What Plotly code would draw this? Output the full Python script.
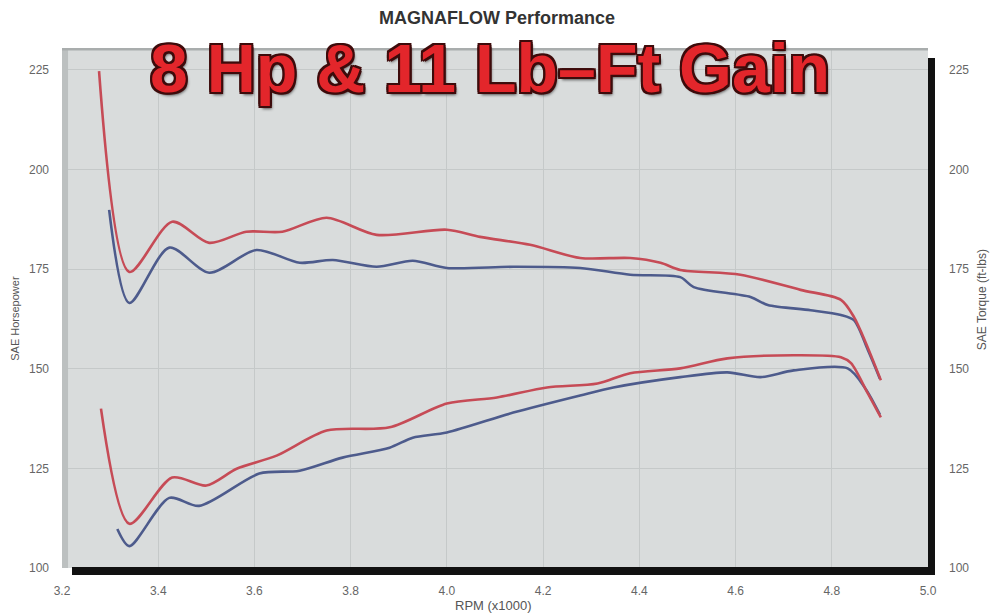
import plotly.graph_objects as go

# RPM (x1000) and values
torque_after_rpm = [3.277, 3.340, 3.429, 3.506, 3.583, 3.658, 3.750, 3.854, 4.000, 4.069,
                    4.173, 4.277, 4.381, 4.444, 4.485, 4.610, 4.735, 4.819, 4.846, 4.902]
torque_after = [224.7, 174.3, 186.9, 181.6, 184.4, 184.4, 187.9, 183.6, 184.9, 183.1,
                181.1, 177.8, 177.8, 176.6, 174.8, 173.6, 169.8, 167.3, 163.0, 147.1]

torque_before_rpm = [3.298, 3.340, 3.423, 3.506, 3.604, 3.694, 3.763, 3.854, 3.929, 4.000,
                     4.138, 4.277, 4.381, 4.485, 4.513, 4.631, 4.667, 4.756, 4.819, 4.846,
                     4.875, 4.900]
torque_before = [189.9, 166.5, 180.4, 174.1, 179.8, 176.6, 177.3, 175.6, 177.1, 175.3,
                 175.6, 175.3, 173.6, 173.0, 170.5, 168.0, 166.0, 164.7, 163.5, 162.2,
                 154.7, 147.5]

hp_after_rpm = [3.281, 3.340, 3.429, 3.500, 3.563, 3.646, 3.750, 3.881, 4.000, 4.104,
                4.208, 4.313, 4.381, 4.485, 4.583, 4.721, 4.819, 4.840, 4.875, 4.902]
hp_after = [140.0, 111.1, 122.7, 120.7, 124.9, 128.2, 134.5, 135.3, 141.3, 142.8,
            145.3, 146.3, 148.9, 150.1, 152.6, 153.4, 152.9, 151.4, 143.8, 137.8]

hp_before_rpm = [3.315, 3.340, 3.423, 3.485, 3.610, 3.694, 3.783, 3.881, 3.929, 4.000,
                 4.138, 4.277, 4.346, 4.485, 4.583, 4.652, 4.721, 4.833, 4.870, 4.900]
hp_before = [109.8, 105.5, 117.6, 115.6, 123.7, 124.4, 127.7, 130.2, 132.7, 134.0,
             139.0, 143.3, 145.3, 147.9, 149.1, 147.9, 149.6, 150.1, 145.0, 138.5]

y_ticks = [100, 125, 150, 175, 200, 225]
x_ticks = [3.2, 3.4, 3.6, 3.8, 4.0, 4.2, 4.4, 4.6, 4.8, 5.0]

RED = "#c64b56"
BLUE = "#4d5b8c"
FONT = "Liberation Sans"

fig = go.Figure()
line_kw = dict(shape="spline", smoothing=0.8, width=2.6)
fig.add_trace(go.Scatter(x=hp_before_rpm, y=hp_before, mode="lines",
                         line=dict(color=BLUE, **line_kw), yaxis="y", name="HP stock"))
fig.add_trace(go.Scatter(x=hp_after_rpm, y=hp_after, mode="lines",
                         line=dict(color=RED, **line_kw), yaxis="y", name="HP Magnaflow"))
fig.add_trace(go.Scatter(x=torque_before_rpm, y=torque_before, mode="lines",
                         line=dict(color=BLUE, **line_kw), yaxis="y2", name="TQ stock"))
fig.add_trace(go.Scatter(x=torque_after_rpm, y=torque_after, mode="lines",
                         line=dict(color=RED, **line_kw), yaxis="y2", name="TQ Magnaflow"))

tickfont = dict(family=FONT, size=12, color="#666666")
# the page body adds an 8px offset, so the figure is 8px smaller and margins shifted
fig.update_layout(
    width=992, height=607,
    margin=dict(l=54, r=72, t=40, b=47, autoexpand=False),
    paper_bgcolor="white",
    plot_bgcolor="#d9dcdc",
    showlegend=False,
    xaxis=dict(range=[3.2, 5.0], tickvals=x_ticks, ticktext=[f"{v:.1f}" for v in x_ticks],
               showgrid=True, gridcolor="#c5c9c9", gridwidth=1, zeroline=False,
               showline=False, ticks="", tickfont=tickfont, ticklabelstandoff=14,
               automargin=False),
    yaxis=dict(range=[100, 230.5], tickvals=y_ticks, showgrid=True, gridcolor="#c5c9c9",
               gridwidth=1, zeroline=False, showline=False, ticks="", tickfont=tickfont,
               ticklabelstandoff=12, automargin=False),
    yaxis2=dict(range=[100, 230.5], tickvals=y_ticks, overlaying="y", side="right",
                showgrid=False, zeroline=False, showline=False, ticks="", tickfont=tickfont,
                ticklabelstandoff=20, automargin=False),
)

shapes = [
    # left gray band and top border
    dict(type="rect", xref="paper", yref="paper", x0=0, x1=0.007, y0=0, y1=1,
         fillcolor="#bcc0c0", line_width=0, layer="above"),
    dict(type="rect", xref="paper", yref="paper", x0=0, x1=1, y0=0.995, y1=1.0,
         fillcolor="#a9adad", line_width=0, layer="above"),
    # black shadow frame on right and bottom
    dict(type="rect", xref="paper", yref="paper", x0=1.0, x1=1.00808, y0=-0.01346, y1=0.98077,
         fillcolor="#111111", line_width=0, layer="above"),
    dict(type="rect", xref="paper", yref="paper", x0=0.011547, x1=1.00808, y0=-0.01346, y1=0.0019,
         fillcolor="#111111", line_width=0, layer="above"),
]
fig.update_layout(shapes=shapes)

outline = "#3d0b0b"
shadow = (f"-2px -2px 0 {outline}, 2px -2px 0 {outline}, -2px 2px 0 {outline}, "
          f"2px 2px 0 {outline}, 0 -2px 0 {outline}, 0 2px 0 {outline}, "
          f"-2px 0 0 {outline}, 2px 0 0 {outline}, 2px 3px 3px #555")

annotations = [
    dict(text="MAGNAFLOW Performance", xref="paper", yref="paper", x=0.502, y=1.0577,
         xanchor="center", yanchor="middle", showarrow=False,
         font=dict(family=FONT, size=18, color="#333333", weight="bold")),
    dict(text="8 Hp & 11 Lb\u2013Ft Gain", xref="paper", yref="paper", x=0.494, y=0.962,
         xanchor="center", yanchor="middle", showarrow=False,
         font=dict(family=FONT, size=68, color="#e3262b", weight="bold", shadow=shadow)),
    dict(text="SAE Horsepower", xref="paper", yref="paper", x=-0.0545, y=0.4808,
         xanchor="center", yanchor="middle", textangle=-90, showarrow=False,
         font=dict(family=FONT, size=11, color="#555555")),
    dict(text="SAE Torque (ft-lbs)", xref="paper", yref="paper", x=1.0624, y=0.515,
         xanchor="center", yanchor="middle", textangle=-90, showarrow=False,
         font=dict(family=FONT, size=12, color="#555555")),
    dict(text="RPM (x1000)", xref="paper", yref="paper", x=0.4988, y=-0.0712,
         xanchor="center", yanchor="middle", showarrow=False,
         font=dict(family=FONT, size=13, color="#555555")),
]
fig.update_layout(annotations=annotations)

fig.write_html("out.html")
